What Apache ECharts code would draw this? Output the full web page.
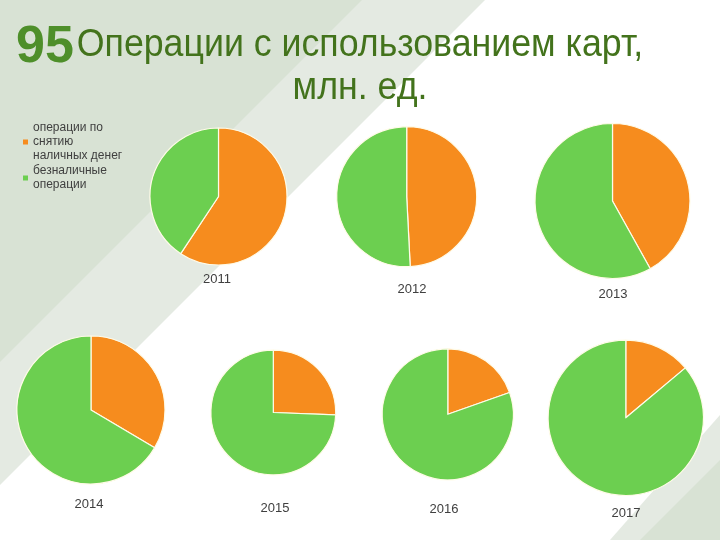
<!DOCTYPE html>
<html>
<head>
<meta charset="utf-8">
<script src="https://cdn.jsdelivr.net/npm/echarts@6/dist/echarts.min.js"></script>
<style>
html,body{margin:0;padding:0;background:#fff;}
#chart{width:720px;height:540px;}
</style>
</head>
<body>
<div id="chart"></div>
<script>
// Data (shares, %)
const years = ['2011', '2012', '2013', '2014', '2015', '2016', '2017'];
const cashOps = [59.3, 49.2, 41.9, 33.5, 25.6, 19.6, 13.9];
const cashlessOps = [40.7, 50.8, 58.1, 66.5, 74.4, 80.4, 86.1];
const seriesNames = ['операции по\nснятию\nналичных денег', 'безналичные\nоперации'];
const titleLines = ['Операции с использованием карт,', 'млн. ед.'];

// Layout (pixels)
const pieCenters = [[218.5, 196.5], [406.7, 196.7], [612.5, 201], [91, 410], [273.3, 412.5], [447.8, 414.3], [625.8, 417.8]];
const pieRadii = [68.5, 70, 77.5, 74, 62.4, 65.5, 77.7];
const labelY = [278, 288, 293, 503, 507, 508, 512];
const labelX = [217, 412, 613, 89, 275, 444, 626];

const colors = ['#f68c1e', '#6ccf50'];

const chart = echarts.init(document.getElementById('chart'), null, {renderer: 'canvas'});

const series = years.map((y, i) => ({
  type: 'pie',
  name: y,
  center: pieCenters[i],
  radius: [0, pieRadii[i]],
  startAngle: 90,
  clockwise: true,
  label: {show: false},
  labelLine: {show: false},
  emphasis: {disabled: true},
  silent: true,
  itemStyle: {borderColor: '#fffbe8', borderWidth: 1.2},
  data: [
    {name: seriesNames[0], value: cashOps[i]},
    {name: seriesNames[1], value: cashlessOps[i]}
  ]
}));

const titles = years.map((y, i) => ({
  text: y,
  left: labelX[i],
  top: labelY[i] - 5,
  padding: 0,
  textAlign: 'center',
  textStyle: {fontFamily: 'Liberation Sans', fontSize: 13, fontWeight: 'normal', color: '#404040'}
}));

chart.setOption({
  animation: false,
  backgroundColor: '#ffffff',
  color: colors,
  graphic: [
    {type: 'polygon', z: -10, silent: true, shape: {points: [[0, 0], [485, 0], [0, 485]]}, style: {fill: '#e4eae2'}},
    {type: 'polygon', z: -9, silent: true, shape: {points: [[0, 0], [362, 0], [0, 362]]}, style: {fill: '#d8e2d4'}},
    {type: 'polygon', z: -10, silent: true, shape: {points: [[720, 415], [720, 540], [610, 540]]}, style: {fill: '#e4eae2'}},
    {type: 'polygon', z: -9, silent: true, shape: {points: [[720, 460], [720, 540], [640, 540]]}, style: {fill: '#d8e2d4'}},
    {type: 'text', x: 16, y: 22, silent: true,
      style: {text: '95', font: 'bold 52px "Liberation Sans"', fill: '#4e8f2a', textVerticalAlign: 'top'}},
    {type: 'text', x: 360, y: 46, scaleX: 0.94, silent: true,
      style: {text: titleLines[0], font: '38px "Liberation Sans"', fill: '#43731c', textAlign: 'center', textVerticalAlign: 'middle'}},
    {type: 'text', x: 360, y: 89, scaleX: 0.94, silent: true,
      style: {text: titleLines[1], font: '38px "Liberation Sans"', fill: '#43731c', textAlign: 'center', textVerticalAlign: 'middle'}}
  ],
  title: titles,
  legend: {
    orient: 'vertical',
    left: 23,
    top: 121,
    padding: 0,
    itemWidth: 5,
    itemHeight: 5,
    itemGap: 1,
    icon: 'rect',
    selectedMode: false,
    data: seriesNames,
    itemStyle: {borderWidth: 0},
    textStyle: {fontFamily: 'Liberation Sans', fontSize: 12, color: '#404040', lineHeight: 14}
  },
  series: series
});
</script>
</body>
</html>
